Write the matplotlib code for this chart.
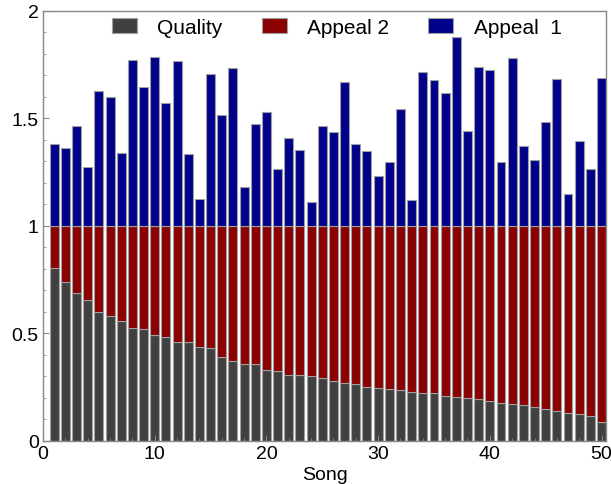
import matplotlib
matplotlib.use("Agg")
import matplotlib.pyplot as plt
from matplotlib.ticker import MultipleLocator

plt.rcParams["font.family"] = ["Liberation Sans", "DejaVu Sans"]

songs = list(range(1, 51))
quality = [0.802, 0.738, 0.687, 0.654, 0.597, 0.578, 0.558, 0.526, 0.521, 0.490,
           0.484, 0.459, 0.457, 0.434, 0.431, 0.388, 0.369, 0.355, 0.355, 0.327,
           0.326, 0.305, 0.304, 0.299, 0.290, 0.279, 0.268, 0.262, 0.251, 0.243,
           0.239, 0.237, 0.228, 0.223, 0.222, 0.206, 0.205, 0.197, 0.195, 0.183,
           0.175, 0.169, 0.167, 0.155, 0.146, 0.140, 0.129, 0.122, 0.113, 0.085]
appeal2 = [0.198, 0.262, 0.313, 0.346, 0.403, 0.422, 0.442, 0.474, 0.479, 0.510,
           0.516, 0.541, 0.543, 0.566, 0.569, 0.612, 0.631, 0.645, 0.645, 0.673,
           0.674, 0.695, 0.696, 0.701, 0.710, 0.721, 0.732, 0.738, 0.749, 0.757,
           0.761, 0.763, 0.772, 0.777, 0.778, 0.794, 0.795, 0.803, 0.805, 0.817,
           0.825, 0.831, 0.833, 0.845, 0.854, 0.860, 0.871, 0.878, 0.887, 0.915]
appeal1 = [0.381, 0.360, 0.464, 0.271, 0.625, 0.597, 0.338, 0.772, 0.647, 0.786,
           0.572, 0.764, 0.332, 0.126, 0.704, 0.516, 0.733, 0.181, 0.471, 0.527,
           0.265, 0.409, 0.353, 0.110, 0.464, 0.436, 0.667, 0.381, 0.349, 0.231,
           0.295, 0.541, 0.119, 0.713, 0.678, 0.616, 0.876, 0.440, 0.736, 0.722,
           0.298, 0.781, 0.369, 0.305, 0.484, 0.682, 0.147, 0.392, 0.265, 0.685]

GRAY, RED, BLUE, EDGE = "#404040", "#8B0000", "#00008B", "#a0a0a0"

fig = plt.figure(figsize=(6.11, 4.85), dpi=100)
ax = fig.add_axes([0.0704, 0.0893, 0.9214, 0.8866])

base2 = quality
base1 = [q + a for q, a in zip(quality, appeal2)]
kw = dict(width=0.8, edgecolor=EDGE, linewidth=0.8)
ax.bar(songs, quality, color=GRAY, label="Quality", **kw)
ax.bar(songs, appeal2, bottom=base2, color=RED, label="Appeal 2", **kw)
ax.bar(songs, appeal1, bottom=base1, color=BLUE, label="Appeal  1", **kw)

ax.set_xlim(0, 50.4)
ax.set_ylim(0, 2)
ax.xaxis.set_major_locator(MultipleLocator(10))
ax.xaxis.set_minor_locator(MultipleLocator(2))
ax.yaxis.set_minor_locator(MultipleLocator(0.1))
ax.set_yticks([0, 0.5, 1, 1.5, 2])
ax.set_yticklabels(["0", "0.5", "1", "1.5", "2"])
ax.tick_params(which="both", direction="in", colors="#888888", labelcolor="black",
               labelsize=14, top=False, right=False)
ax.tick_params(which="major", length=4)
ax.tick_params(which="minor", length=2)
ax.tick_params(axis="y", which="major", pad=3)
ax.tick_params(axis="x", which="major", pad=3)
for s in ax.spines.values():
    s.set_color("#888888")
    s.set_linewidth(1.0)
ax.set_xlabel("Song", fontsize=14, labelpad=3)

ax.legend(loc="upper center", bbox_to_anchor=(0.522, 1.027), ncol=3, frameon=False,
          fontsize=15, handlelength=1.2, handleheight=0.72, handletextpad=1.0,
          columnspacing=1.87)

fig.savefig("out.png", dpi=100)
